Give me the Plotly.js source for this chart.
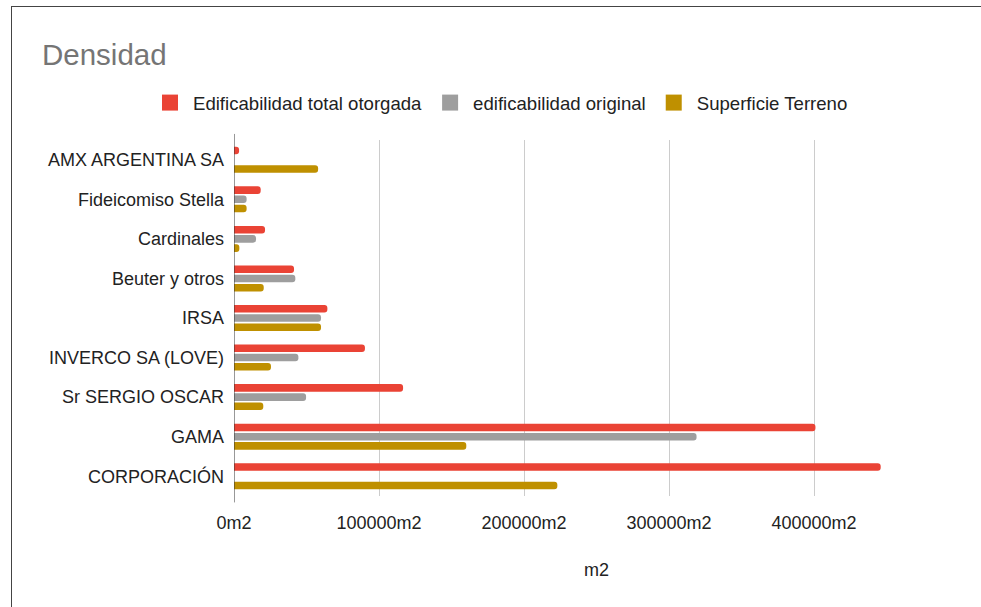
<!DOCTYPE html>
<html>
<head>
<meta charset="utf-8">
<script src="https://cdn.plot.ly/plotly-3.0.1.min.js"></script>
<style>
html,body{margin:0;padding:0;background:#fff;}
#wrap{position:relative;width:981px;height:607px;}
#chart{position:absolute;left:0;top:0;width:981px;height:607px;}
#frame{position:absolute;left:11px;top:6px;right:0;bottom:0;border-left:1px solid #444;border-top:1px solid #444;pointer-events:none;}
</style>
</head>
<body>
<div id="wrap"><div id="chart"></div><div id="frame"></div></div>
<script>
const categories = ["AMX ARGENTINA SA","Fideicomiso Stella","Cardinales","Beuter y otros","IRSA","INVERCO SA (LOVE)","Sr SERGIO OSCAR","GAMA","CORPORACIÓN"];
const edificabilidadTotal = [3500, 18400, 21400, 41400, 64400, 90300, 116600, 401000, 446000];
const edificabilidadOriginal = [null, 8700, 15200, 42300, 60000, 44400, 49700, 319000, null];
const superficieTerreno = [58000, 8700, 3700, 20500, 60000, 25500, 20200, 160200, 223000];
const seriesNames = ["Edificabilidad total otorgada","edificabilidad original","Superficie Terreno"];
const seriesColors = ["#ea4335","#9e9e9e","#bf9000"];
const tickVals = [0,100000,200000,300000,400000,500000];
const tickText = ["0m2","100000m2","200000m2","300000m2","400000m2",""];

const seriesData = [edificabilidadTotal, edificabilidadOriginal, superficieTerreno];
const traces = seriesData.map((vals,i)=>({
  type:'bar', orientation:'h', name:seriesNames[i], y:categories, x:vals,
  marker:{color:seriesColors[i], cornerradius:3}, showlegend:false, legendgroup:'g'+i
}));
// legend entries with larger square symbols
seriesNames.forEach((n,i)=>traces.push({
  type:'scatter', mode:'markers', name:n, x:[null], y:[null], legendgroup:'g'+i,
  marker:{symbol:'square', size:17, color:seriesColors[i]}, showlegend:true
}));

const layout = {
  width:981, height:607,
  paper_bgcolor:'#fff', plot_bgcolor:'#fff',
  margin:{l:234, r:22, t:140, b:111},
  font:{family:'Liberation Sans, Arial, sans-serif', size:18, color:'#222'},
  title:{text:'Densidad', font:{family:'Liberation Sans, Arial, sans-serif', size:29.5, color:'#757575'},
    xref:'container', x:42/981, xanchor:'left', yref:'container', y:1-55/607, yanchor:'middle'},
  barmode:'group', bargap:0.3, bargroupgap:0.18,
  showlegend:true,
  legend:{orientation:'h', x:(500-234)/725, xanchor:'center', y:1+(140-103)/356, yanchor:'middle',
    font:{size:18.6, color:'#222'}, itemclick:false, traceorder:'normal', itemwidth:36},
  xaxis:{range:[0,500000], tickmode:'array', tickvals:tickVals, ticktext:tickText,
    showgrid:true, gridcolor:'#cccccc', gridwidth:1, zeroline:false, showline:false,
    ticks:'', ticklabelstandoff:14, tickfont:{size:18,color:'#222'},
    title:{text:'m2', font:{size:18,color:'#222'}, standoff:31}},
  yaxis:{autorange:'reversed', type:'category', showgrid:false, zeroline:false,
    showline:false, ticks:'', ticklabelstandoff:9, tickfont:{size:18,color:'#222'}},
  shapes:[{type:'line', xref:'x', yref:'paper', x0:0, x1:0, y0:-0.018, y1:1.017,
    line:{color:'#333', width:1}}]
};
Plotly.newPlot('chart', traces, layout, {displayModeBar:false, staticPlot:true});
</script>
</body>
</html>
